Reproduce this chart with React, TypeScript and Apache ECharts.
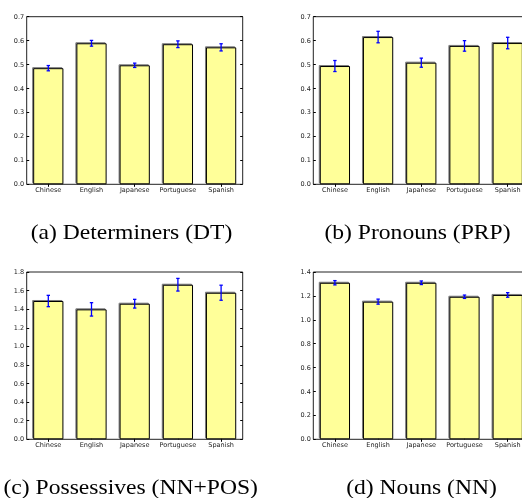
import React, { useEffect, useRef } from "react";
import * as echarts from "echarts";

const categories = ["Chinese", "English", "Japanese", "Portuguese", "Spanish"];

const dtValues = [0.485, 0.589, 0.497, 0.585, 0.572];
const dtErrors = [0.011, 0.012, 0.009, 0.014, 0.015];
const prpValues = [0.494, 0.615, 0.508, 0.578, 0.59];
const prpErrors = [0.023, 0.024, 0.019, 0.022, 0.024];
const posValues = [1.488, 1.398, 1.459, 1.663, 1.577];
const posErrors = [0.061, 0.072, 0.047, 0.068, 0.081];
const nnValues = [1.31, 1.152, 1.31, 1.193, 1.208];
const nnErrors = [0.018, 0.021, 0.015, 0.014, 0.019];

const yMaxes = [0.7, 0.7, 1.8, 1.4];
const yIntervals = [0.1, 0.1, 0.2, 0.2];
const captions = [
  "(a) Determiners (DT)",
  "(b) Pronouns (PRP)",
  "(c) Possessives (NN+POS)",
  "(d) Nouns (NN)",
];

const panels = [
  { values: dtValues, errors: dtErrors },
  { values: prpValues, errors: prpErrors },
  { values: posValues, errors: posErrors },
  { values: nnValues, errors: nnErrors },
];

const gridPos = [
  { left: 26.7, top: 16.7, width: 216, height: 167.6 },
  { left: 313.3, top: 16.7, width: 216, height: 167.6 },
  { left: 26.7, top: 272, width: 216, height: 167.3 },
  { left: 313.3, top: 272, width: 216, height: 167.3 },
];
const captionPos = [
  { x: 131.5, y: 232.5 },
  { x: 417.5, y: 232.5 },
  { x: 130.7, y: 487.5 },
  { x: 421.5, y: 487.5 },
];

export default function App() {
  const ref = useRef<HTMLDivElement>(null);
  useEffect(() => {
    if (!ref.current) return;
    const chart = echarts.init(ref.current, undefined, { renderer: "svg" });
    const grid: any[] = [];
    const xAxis: any[] = [];
    const yAxis: any[] = [];
    const series: any[] = [];
    const graphic: any[] = [];
    const labelStyle = { fontFamily: "DejaVu Sans", fontSize: 6.5, color: "#222" };
    const tick = { show: true, inside: true, length: 2.5, lineStyle: { color: "#000", width: 1 } };
    panels.forEach((p, i) => {
      grid.push({
        ...gridPos[i],
        show: true,
        borderColor: "#222",
        borderWidth: 1,
        backgroundColor: "transparent",
        containLabel: false,
        outerBoundsMode: "none",
      });
      xAxis.push({
        type: "category",
        gridIndex: i,
        data: categories,
        position: "bottom",
        boundaryGap: true,
        axisLine: { show: false },
        axisTick: { ...tick, alignWithLabel: true },
        axisLabel: { ...labelStyle, margin: 2.5, interval: 0 },
        splitLine: { show: false },
      });
      xAxis.push({
        type: "category",
        gridIndex: i,
        data: categories,
        position: "top",
        boundaryGap: true,
        axisLine: { show: false },
        axisTick: { ...tick, alignWithLabel: true },
        axisLabel: { show: false },
        splitLine: { show: false },
      });
      const yBase = {
        type: "value",
        gridIndex: i,
        min: 0,
        max: yMaxes[i],
        interval: yIntervals[i],
        axisLine: { show: false },
        axisTick: tick,
        splitLine: { show: false },
      };
      yAxis.push({
        ...yBase,
        position: "left",
        axisLabel: {
          ...labelStyle,
          margin: 2.5,
          formatter: (v: number) => v.toFixed(1),
        },
      });
      yAxis.push({ ...yBase, position: "right", axisLabel: { show: false } });
      series.push({
        type: "bar",
        xAxisIndex: 2 * i,
        yAxisIndex: 2 * i,
        data: p.values,
        barWidth: "70%",
        itemStyle: {
          color: "#ffff99",
          borderColor: "#000",
          borderWidth: 1,
          shadowColor: "rgba(90,90,90,0.8)",
          shadowOffsetX: -1,
          shadowOffsetY: -1,
          shadowBlur: 0,
        },
        z: 2,
      });
      series.push({
        type: "custom",
        xAxisIndex: 2 * i,
        yAxisIndex: 2 * i,
        data: p.values.map((v, k) => [k, v - p.errors[k], v + p.errors[k]]),
        encode: { x: 0, y: [1, 2] },
        z: 5,
        renderItem: (params: any, api: any) => {
          const x = api.value(0);
          const lo = api.coord([x, api.value(1)]);
          const hi = api.coord([x, api.value(2)]);
          const cap = 1.7;
          const st = { stroke: "#0000ff", lineWidth: 1.3 };
          return {
            type: "group",
            children: [
              { type: "line", shape: { x1: lo[0], y1: lo[1], x2: hi[0], y2: hi[1] }, style: st },
              { type: "line", shape: { x1: lo[0] - cap, y1: lo[1], x2: lo[0] + cap, y2: lo[1] }, style: st },
              { type: "line", shape: { x1: hi[0] - cap, y1: hi[1], x2: hi[0] + cap, y2: hi[1] }, style: st },
            ],
          };
        },
      });
      graphic.push({
        type: "text",
        x: captionPos[i].x,
        y: captionPos[i].y,
        scaleX: 1.18,
        style: {
          text: captions[i],
          textAlign: "center",
          textVerticalAlign: "middle",
          fontFamily: "Liberation Serif",
          fontSize: 20,
          fill: "#000",
        },
      });
    });
    chart.setOption({
      animation: false,
      backgroundColor: "#fff",
      grid,
      xAxis,
      yAxis,
      series,
      graphic,
    });
    return () => chart.dispose();
  }, []);
  return (
    <div
      ref={ref}
      style={{
        position: "absolute",
        left: 0,
        top: 0,
        width: 522,
        height: 498,
        opacity: 0.999,
      }}
    />
  );
}
